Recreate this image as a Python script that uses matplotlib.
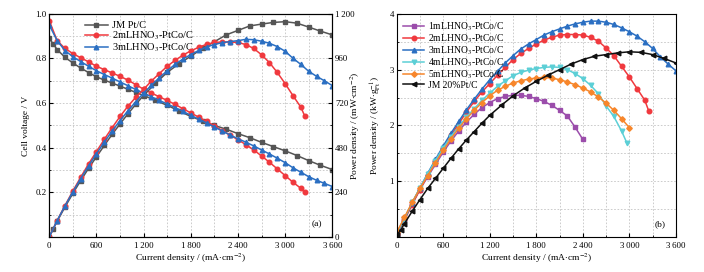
import matplotlib
matplotlib.use("Agg")
import matplotlib.pyplot as plt
from matplotlib.ticker import MultipleLocator, FuncFormatter

plt.rcParams['font.family'] = ['Liberation Serif', 'DejaVu Sans']
plt.rcParams['mathtext.fontset'] = 'stix'
plt.rcParams['font.size'] = 6.8

# ---- panel (a): polarisation + power density (mW/cm2) ----
i_jm = [0, 50, 100, 200, 300, 400, 500, 600, 700, 800, 900, 1000, 1100, 1200,
        1350, 1500, 1650, 1800, 1950, 2100, 2250, 2400, 2550, 2700, 2850, 3000,
        3150, 3300, 3450, 3600]
v_jm = [0.89, 0.865, 0.84, 0.805, 0.78, 0.757, 0.737, 0.718, 0.703, 0.69, 0.676,
        0.662, 0.648, 0.634, 0.612, 0.59, 0.565, 0.54, 0.52, 0.5, 0.483, 0.463,
        0.445, 0.424, 0.405, 0.386, 0.365, 0.342, 0.321, 0.302]
p_jm = [0, 43, 84, 161, 234, 303, 369, 431, 492, 552, 608, 662, 713, 761, 826,
        885, 932, 972, 1014, 1050, 1087, 1111, 1135, 1145, 1154, 1158, 1150, 1129,
        1107, 1087]

i_2ml = [0, 100, 200, 300, 400, 500, 600, 700, 800, 900, 1000, 1100, 1200, 1300,
         1400, 1500, 1600, 1700, 1800, 1900, 2000, 2100, 2200, 2300, 2400, 2500,
         2600, 2700, 2800, 2900, 3000, 3100, 3200, 3250]
v_2ml = [0.97, 0.88, 0.845, 0.822, 0.803, 0.785, 0.765, 0.75, 0.735, 0.72, 0.703,
         0.683, 0.662, 0.645, 0.628, 0.612, 0.594, 0.575, 0.556, 0.537, 0.518,
         0.498, 0.477, 0.456, 0.436, 0.414, 0.39, 0.363, 0.335, 0.305, 0.275,
         0.245, 0.218, 0.2]
p_2ml = [0, 88, 169, 247, 321, 393, 459, 525, 588, 648, 703, 751, 794, 839, 879,
         918, 950, 978, 1001, 1020, 1036, 1046, 1049, 1049, 1046, 1035, 1014, 980,
         938, 885, 825, 760, 698, 650]

i_3ml = [0, 100, 200, 300, 400, 500, 600, 700, 800, 900, 1000, 1100, 1200, 1300,
         1400, 1500, 1600, 1700, 1800, 1900, 2000, 2100, 2200, 2300, 2400, 2500,
         2600, 2700, 2800, 2900, 3000, 3100, 3200, 3300, 3400, 3500, 3600]
v_3ml = [0.95, 0.88, 0.835, 0.808, 0.786, 0.765, 0.745, 0.728, 0.712, 0.695,
         0.678, 0.661, 0.645, 0.628, 0.612, 0.596, 0.58, 0.563, 0.545, 0.528,
         0.511, 0.493, 0.475, 0.457, 0.44, 0.425, 0.408, 0.39, 0.372, 0.353,
         0.333, 0.31, 0.29, 0.27, 0.254, 0.24, 0.226]
p_3ml = [0, 88, 167, 242, 314, 383, 447, 510, 570, 626, 678, 727, 774, 816, 857,
         894, 928, 957, 981, 1003, 1022, 1035, 1045, 1051, 1056, 1063, 1061, 1053,
         1042, 1024, 999, 961, 928, 891, 864, 840, 814]

# ---- panel (b): mass power density (kW/gPt) ----
i_step = [0, 100, 200, 300, 400, 500, 600, 700, 800, 900, 1000, 1100, 1200, 1300,
          1400, 1500, 1600, 1700, 1800, 1900, 2000, 2100, 2200, 2300, 2400, 2500,
          2600, 2700, 2800, 2900, 3000]
i_1ml = i_step[:25]
m_1ml = [0.06, 0.34, 0.6, 0.85, 1.08, 1.3, 1.52, 1.72, 1.9, 2.06, 2.2, 2.32,
         2.41, 2.48, 2.52, 2.54, 2.54, 2.52, 2.48, 2.43, 2.36, 2.27, 2.17, 1.97,
         1.75]
m_2ml = [0.06, 0.3, 0.58, 0.85, 1.11, 1.36, 1.59, 1.82, 2.03, 2.24, 2.43, 2.6,
         2.75, 2.9, 3.04, 3.18, 3.29, 3.38, 3.46, 3.53, 3.58, 3.62, 3.63, 3.63,
         3.62, 3.58, 3.51, 3.39, 3.25, 3.06, 2.87, 2.66, 2.45, 2.26]
m_3ml = [0.06, 0.32, 0.61, 0.88, 1.14, 1.39, 1.63, 1.86, 2.07, 2.28, 2.47, 2.65,
         2.82, 2.97, 3.12, 3.25, 3.37, 3.46, 3.54, 3.62, 3.68, 3.73, 3.78, 3.82,
         3.85, 3.87, 3.87, 3.85, 3.81, 3.75, 3.68, 3.6, 3.5, 3.38, 3.23, 3.1, 2.98]
i_4ml = i_step[:30] + [2970]
m_4ml = [0.06, 0.33, 0.62, 0.88, 1.13, 1.37, 1.6, 1.8, 1.98, 2.15, 2.3, 2.45,
         2.58, 2.7, 2.8, 2.89, 2.95, 2.99, 3.02, 3.04, 3.05, 3.04, 3.0, 2.93,
         2.84, 2.72, 2.57, 2.35, 2.16, 1.9, 1.68]
i_5ml = i_step
m_5ml = [0.08, 0.35, 0.62, 0.87, 1.1, 1.33, 1.55, 1.76, 1.95, 2.12, 2.27, 2.41,
         2.53, 2.63, 2.7, 2.76, 2.8, 2.83, 2.85, 2.86, 2.85, 2.82, 2.78, 2.73,
         2.67, 2.6, 2.51, 2.4, 2.27, 2.12, 1.96]
m_jm = [0.03, 0.12, 0.24, 0.46, 0.67, 0.87, 1.05, 1.23, 1.41, 1.58, 1.74, 1.89,
        2.04, 2.18, 2.36, 2.53, 2.67, 2.79, 2.9, 3.0, 3.1, 3.18, 3.24, 3.27, 3.3,
        3.32, 3.31, 3.27, 3.2, 3.12]

c_gray, c_red, c_blue = '#555555', '#f0393e', '#2b6fc2'
c_purple, c_cyan, c_orange, c_black = '#9b4dab', '#5ccfd6', '#f7862b', '#111111'

def thou(x, pos):
    s = '%d' % round(x)
    return s if len(s) < 4 else s[:-3] + '\u2009' + s[-3:]

def style_ticks(ax):
    ax.tick_params(which='both', direction='in', pad=2, labelsize=6.4)
    ax.tick_params(which='major', length=3)
    ax.tick_params(which='minor', length=1.5)

def style_x(ax):
    ax.set_xlim(0, 3600)
    ax.xaxis.set_major_locator(MultipleLocator(600))
    ax.xaxis.set_minor_locator(MultipleLocator(300))
    ax.xaxis.set_major_formatter(FuncFormatter(thou))
    ax.set_xlabel(r'Current density / (mA$\cdot$cm$^{-2}$)', labelpad=1)
    ax.grid(True, which='both', ls=(0, (2, 2)), color='#c4c4c4', lw=0.6)
    style_ticks(ax)
    ax.tick_params(axis='x', which='major', pad=4)

fig = plt.figure(figsize=(7.04, 2.72), dpi=100)
kw = dict(lw=1.1, ms=3.3)
leg_kw = dict(loc='upper left', frameon=False, handlelength=2.2,
              borderaxespad=0.3, handletextpad=0.4)

# panel (a)
ax1 = fig.add_axes([0.070, 0.129, 0.402, 0.820])
ax1.plot(i_jm, v_jm, '-s', color=c_gray, label='JM Pt/C', **kw)
ax1.plot(i_2ml, v_2ml, '-o', color=c_red, label=r'2mLHNO$_3$-PtCo/C', **kw)
ax1.plot(i_3ml, v_3ml, '-^', color=c_blue, label=r'3mLHNO$_3$-PtCo/C', **kw)
style_x(ax1)
ax1.set_ylim(0, 1.0)
ax1.set_yticks([0.2, 0.4, 0.6, 0.8, 1.0])
ax1.yaxis.set_minor_locator(MultipleLocator(0.1))
ax1.set_ylabel('Cell voltage / V')
ax1.yaxis.set_label_coords(-0.068, 0.5)
ax1.legend(bbox_to_anchor=(0.1, 1.0), fontsize=7.5, labelspacing=-0.08, **leg_kw)
ax1.text(0.965, 0.04, '(a)', transform=ax1.transAxes, ha='right', va='bottom')

ax1r = ax1.twinx()
ax1r.plot(i_jm, p_jm, '-s', color=c_gray, **kw)
ax1r.plot(i_2ml, p_2ml, '-o', color=c_red, **kw)
ax1r.plot(i_3ml, p_3ml, '-^', color=c_blue, **kw)
ax1r.set_ylim(0, 1200)
ax1r.yaxis.set_major_locator(MultipleLocator(240))
ax1r.yaxis.set_minor_locator(MultipleLocator(120))
ax1r.yaxis.set_major_formatter(FuncFormatter(thou))
style_ticks(ax1r)
ax1r.set_ylabel(r'Power density / (mW$\cdot$cm$^{-2}$)')
ax1r.yaxis.set_label_coords(1.058, 0.5)

# panel (b)
ax2 = fig.add_axes([0.5635, 0.129, 0.3965, 0.820])
ax2.plot(i_1ml, m_1ml, '-s', color=c_purple, label=r'1mLHNO$_3$-PtCo/C', **kw)
ax2.plot(i_2ml, m_2ml, '-o', color=c_red, label=r'2mLHNO$_3$-PtCo/C', **kw)
ax2.plot(i_3ml, m_3ml, '-^', color=c_blue, label=r'3mLHNO$_3$-PtCo/C', **kw)
ax2.plot(i_4ml, m_4ml, '-v', color=c_cyan, label=r'4mLHNO$_3$-PtCo/C', **kw)
ax2.plot(i_5ml, m_5ml, '-D', color=c_orange, label=r'5mLHNO$_3$-PtCo/C',
         lw=1.1, ms=2.8)
ax2.plot(i_jm, m_jm, '-<', color=c_black, label='JM 20%Pt/C', **kw)
style_x(ax2)
ax2.set_ylim(0, 4)
ax2.set_yticks([1, 2, 3, 4])
ax2.yaxis.set_minor_locator(MultipleLocator(0.5))
ax2.set_ylabel(r'Power density / (kW$\cdot$g$_{\rm Pt}^{-1}$)')
ax2.yaxis.set_label_coords(-0.05, 0.5)
ax2.legend(bbox_to_anchor=(0.0, 1.0), fontsize=6.9, labelspacing=-0.05, **leg_kw)
ax2.text(0.965, 0.04, '(b)', transform=ax2.transAxes, ha='right', va='bottom')

fig.savefig('out.png', dpi=100)
